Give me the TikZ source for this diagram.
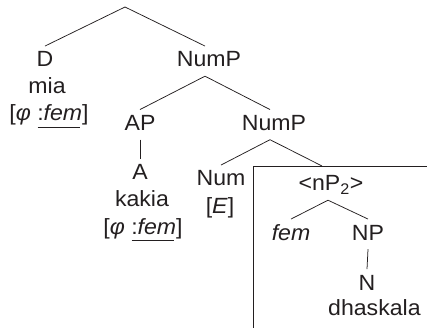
\documentclass[tikz,border=0pt]{standalone}
\usepackage{fontspec}
\setmainfont{Liberation Sans}[FakeStretch=1.05]
\definecolor{txt}{HTML}{231F20}
\newcommand\featul[1]{\setbox0\hbox{\itshape #1}\rlap{\kern-6pt\rule[-7pt]{\dimexpr\wd0+4pt\relax}{0.9pt}}\box0}
\begin{document}
\begin{tikzpicture}[x=1pt,y=-1pt,
  lbl/.style={font=\fontsize{22}{26}\selectfont, inner sep=0pt, anchor=base, text=txt},
  cat/.style={lbl, text height=15.75pt, text depth=4pt, inner ysep=5pt, inner xsep=0pt},
  branch/.style={line width=0.75pt, draw=txt}]
\useasboundingbox (0,0) rectangle (427,328);
\coordinate (root) at (125,7);
\node[cat] (D) at (45,67) {D};
\node[lbl] (mia) at (47,94) {mia};
\node[lbl] (fD) at (49,121) {[\textit{φ} :\featul{fem}]};
\node[cat] (NumP) at (209,67) {NumP};
\node[cat] (AP) at (140,130.5) {AP};
\node[cat] (A) at (140,180) {A};
\node[lbl] (kakia) at (142,207) {kakia};
\node[lbl] (fA) at (143,234) {[\textit{φ} :\featul{fem}]};
\node[cat] (NumP2) at (274,130.5) {NumP};
\node[cat] (Num) at (221,186) {Num};
\node[lbl] (E) at (220,213) {[\textit{E}]};
\node[cat] (nP) at (331,191) {<nP\textsubscript{2}>};
\node[cat] (fem) at (291,240) {\textit{fem}};
\node[cat] (NP) at (368,240) {NP};
\node[cat] (N) at (367,290) {N};
\node[lbl, anchor=base west] (dh) at (328,315) {dhaskala};
\coordinate (hit) at (322,166);
\coordinate (boxbl) at (253,328);
\coordinate (boxtl) at (253,166);
\coordinate (boxtr) at (427,166);
\draw[branch] (D.north) -- (root) -- ([xshift=-4pt]NumP.north);
\draw[branch] (AP.north) -- ([xshift=-4pt]NumP.south) -- ([xshift=-4pt]NumP2.north);
\draw[branch] (AP.south) -- (A.north);
\draw[branch] (Num.north) -- ([xshift=-4pt]NumP2.south) -- (hit);
\draw[branch] (fem.north) -- ([xshift=-3pt]nP.south) -- (NP.north);
\draw[branch] (NP.south) -- (N.north);
\draw[branch] (boxbl) -- (boxtl) -- (boxtr);
\end{tikzpicture}
\end{document}
